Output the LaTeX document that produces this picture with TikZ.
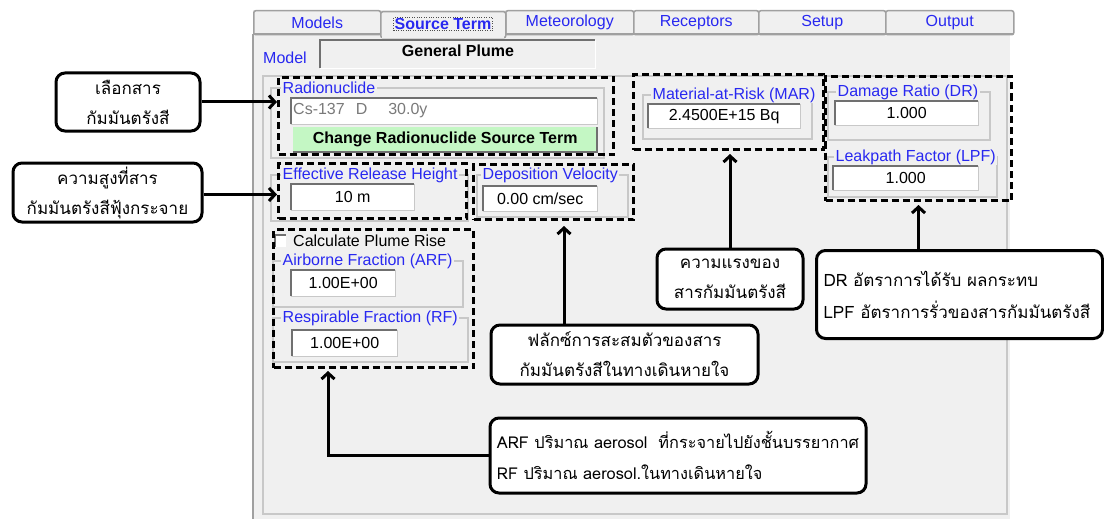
\documentclass[tikz,border=0pt]{standalone}
\usepackage{fontspec}
\setmainfont{Liberation Sans}
\newfontfamily\thai[Script=Thai]{Loma}
\usetikzlibrary{arrows.meta}
\definecolor{uibg}{HTML}{F0F0F0}
\definecolor{uiblue}{RGB}{40,40,240}
\definecolor{edge}{HTML}{A0A0A0}
\definecolor{ledge}{HTML}{C8C8C8}
\definecolor{dedge}{HTML}{707070}
\definecolor{btngreen}{HTML}{C4F7C4}
\definecolor{graytext}{HTML}{7A7A7A}
\tikzset{
 ui/.style={font=\fontsize{16}{18}\selectfont, inner sep=0pt},
 lbl/.style={ui, text=uiblue, fill=uibg, inner xsep=1.5pt, inner ysep=1pt, anchor=west},
 tbox/.style={ui, fill=white, anchor=north west},
 grp/.style={draw=ledge, line width=1.2pt},
 sunk/.style={draw=dedge, line width=2pt},
 raisd/.style={draw=white, line width=1.5pt},
 hl/.style={draw=black, line width=3pt, dash pattern=on 7pt off 4pt, inner sep=0pt, anchor=north west},
 call/.style={draw=black, fill=white, line width=3pt, rounded corners=9pt, font=\thai\fontsize{17}{30}\selectfont, align=center, inner sep=0pt},
 arr/.style={line width=3pt, -{Straight Barb[length=6pt,width=13pt]}},
 tab/.style={ui, text=uiblue, draw=edge, fill=uibg, line width=1.5pt, rounded corners=2pt, minimum height=24pt, anchor=north west},
}
\begin{document}
\begin{tikzpicture}[x=1pt,y=-1pt]
\useasboundingbox (0,0) rectangle (1104,519);
\fill[white] (0,0) rectangle (1104,519);
% window
\fill[uibg] (253,10) rectangle (1010,519);
% tabs
\node[tab, minimum width=127pt] (tmodels) at (253,10) {Models};
\node[tab, minimum width=128pt] (tmet) at (505,10) {Meteorology};
\node[tab, minimum width=125pt] (trec) at (633,10) {Receptors};
\node[tab, minimum width=127pt] (tset) at (758,10) {Setup};
\node[tab, minimum width=128pt] (tout) at (885,10) {Output};
\draw[edge, line width=2pt] (253,34) -- (380,34) (505,34) -- (1013,34);
\node[tab, minimum width=125pt, minimum height=26pt] (tsrc) at (380,11) {};
\fill[uibg] (381.5,32) rectangle (503.5,38);
\node[ui, text=uiblue, font=\fontsize{16}{18}\selectfont\bfseries, draw=black!70, dotted, inner sep=1pt] (tsrct) at (443,24) {Source Term};
% panel borders
\draw[edge, line width=2pt] (253,34) -- (253,519);
\draw[grp] (263,76) rectangle (1007,514);
% model
\node[ui, text=uiblue, anchor=west] (mlbl) at (263,58) {Model};
\node[ui, fill=uibg, anchor=north west, minimum width=275pt, minimum height=28pt] (mbox) at (320,40) {};
\draw[sunk] (mbox.south west) -- (mbox.north west) -- (mbox.north east);
\draw[raisd] (mbox.north east) -- (mbox.south east) -- (mbox.south west);
\node[ui, font=\fontsize{16}{18}\selectfont\bfseries] (mtxt) at (458,51) {General Plume};
% group frames
\draw[grp] (271,88) rectangle (604,158);
\draw[grp] (271,175) rectangle (468,221);
\draw[grp] (477,175) rectangle (628,217);
\draw[grp] (643,95) rectangle (812,139);
\draw[grp] (828,92) rectangle (990,140);
\draw[grp] (828,157) rectangle (997,197);
\draw[grp] (273,261) rectangle (463,307);
\draw[grp] (273,318) rectangle (468,362);
% labels
\node[lbl] (lrad) at (281,88) {Radionuclide};
\node[lbl] (leff) at (281,175) {Effective Release Height};
\node[lbl] (ldep) at (481,175) {Deposition Velocity};
\node[lbl] (lmar) at (651,95) {Material-at-Risk (MAR)};
\node[lbl] (ldr) at (836,92) {Damage Ratio (DR)};
\node[lbl] (llpf) at (834,157) {Leakpath Factor (LPF)};
\node[lbl] (larf) at (281,261) {Airborne Fraction (ARF)};
\node[lbl] (lrf) at (281,318) {Respirable Fraction (RF)};
% text boxes
\node[tbox, minimum width=306pt, minimum height=26pt] (tcs) at (291,98) {};
\node[ui, text=graytext, anchor=west] (tcst) at (293,111) {Cs-137\hspace{11pt}D\hspace{21pt}30.0y};
\node[tbox, minimum width=123pt, minimum height=26pt] (teff) at (291,184) {10 m};
\node[tbox, minimum width=114pt, minimum height=25pt] (tdep) at (483,186) {0.00 cm/sec};
\node[tbox, minimum width=104pt, minimum height=26pt] (tarf) at (291,270) {1.00E+00};
\node[tbox, minimum width=105pt, minimum height=26pt] (trf) at (292,330) {1.00E+00};
\node[tbox, minimum width=152pt, minimum height=24pt] (tmar) at (648,104) {2.4500E+15 Bq};
\node[tbox, minimum width=143pt, minimum height=24pt] (tdr) at (835,101) {1.000};
\node[tbox, minimum width=145pt, minimum height=24pt] (tlpf) at (833,166) {1.000};
\foreach \n in {tcs,teff,tdep,tarf,trf,tmar,tdr,tlpf}{
  \draw[sunk] (\n.south west) -- (\n.north west) -- (\n.north east);
  \draw[ledge, line width=1.5pt] (\n.north east) -- (\n.south east) -- (\n.south west);
}
% button
\node[ui, fill=btngreen, anchor=north west, minimum width=304pt, minimum height=25pt, font=\fontsize{16}{18}\selectfont\bfseries] (btn) at (293,127) {Change Radionuclide Source Term};
\draw[dedge, line width=2pt] (btn.north east) -- (btn.south east) -- (btn.south west);
% checkbox
\node[ui, fill=white, anchor=north west, minimum width=11pt, minimum height=12pt] (chk) at (275,235) {};
\draw[sunk, line width=1.5pt] (chk.south west) -- (chk.north west) -- (chk.north east);
\node[ui, anchor=west] (chkt) at (293,241) {Calculate Plume Rise};
% dashed highlights
\node[hl, minimum width=335pt, minimum height=77pt] (rad) at (277,76) {};
\node[hl, minimum width=188pt, minimum height=55pt] (eff) at (277,162) {};
\node[hl, minimum width=160pt, minimum height=55pt] (dep) at (472,163) {};
\node[hl, minimum width=200pt, minimum height=138pt] (plume) at (272,228) {};
\node[hl, minimum width=190pt, minimum height=75pt] (mar) at (632,73) {};
\node[hl, minimum width=186pt, minimum height=124pt] (dr) at (824,75) {};
% callouts
\node[call, minimum width=144pt, minimum height=58pt] (c1) at (128,102) {เลือกสาร\\กัมมันตรังสี};
\node[call, minimum width=189pt, minimum height=59pt] (c2) at (107.5,192.5) {ความสูงที่สาร\\กัมมันตรังสีฟุ้งกระจาย};
\node[call, minimum width=146pt, minimum height=60pt] (c3) at (730,279) {ความแรงของ\\สารกัมมันตรังสี};
\node[call, anchor=north west, minimum height=88pt, text width=272pt, inner xsep=7pt, align=left, font=\thai\fontsize{17}{32}\selectfont] (c4) at (815,249) {DR อัตราการได้รับ ผลกระทบ\\LPF อัตราการรั่วของสารกัมมันตรังสี};
\node[call, minimum width=267pt, minimum height=59pt] (c5) at (624.5,354.5) {ฟลักซ์การสะสมตัวของสาร\\กัมมันตรังสีในทางเดินหายใจ};
\node[call, minimum width=376pt, minimum height=75pt, align=left, font=\thai\fontsize{16.3}{31}\selectfont] (c6) at (678,455.5) {ARF ปริมาณ aerosol\ \ ที่กระจายไปยังชั้นบรรยากาศ\\RF ปริมาณ aerosol.ในทางเดินหายใจ};
% arrows
\coordinate (p5) at (564,226);
\coordinate (p6) at (328,371);
\draw[arr] (c1.east) -- (c1.east -| rad.west);
\draw[arr] (c2.east) ++(0,2) coordinate (c2a) (c2a) -- (c2a -| eff.west);
\draw[arr, shorten >=3pt] (c3.north) -- (c3.north |- mar.south);
\draw[arr, shorten >=3pt] (dr.south |- c4.north) -- (dr.south);
\draw[arr] (p5 |- c5.north) -- (p5);
\draw[arr] (c6.west) -| (p6);
\end{tikzpicture}
\end{document}
